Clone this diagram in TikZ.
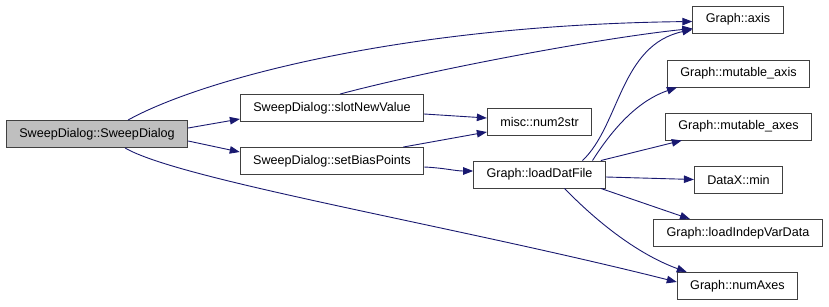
\documentclass[tikz,border=0pt]{standalone}
\usepackage{fontspec}
\setmainfont{Liberation Sans}
\usepackage{tikz}
\usetikzlibrary{arrows.meta}
\tikzset{fn/.style = {draw=black!75, line width=0.9pt, rectangle, inner xsep=13pt, inner ysep=0,
                      minimum height=27pt, font=\fontsize{12.6pt}{14pt}\selectfont}}
\tikzset{root/.style = {fn, fill=mgray}}
\tikzset{call/.style = {draw=mblue, line width=0.9pt, -{Triangle[length=10pt, width=7.5pt]}}}
\definecolor{mblue}{rgb}{0.1, 0.1, 0.44}
\definecolor{mgray}{rgb}{0.75, 0.75, 0.75}

\begin{document}
\begin{tikzpicture}[x=1pt, y=-1pt]
    \useasboundingbox (0, 0) rectangle (829, 307);

    \node [root] (sd) at (97, 134) {SweepDialog::SweepDialog};

    \node [fn] (slot) at (332, 108) {SweepDialog::slotNewValue};
    \node [fn] (bias) at (332, 161) {SweepDialog::setBiasPoints};

    \node [fn] (num2str) at (539.5, 122) {misc::num2str};
    \node [fn] (load) at (539.5, 174.5) {Graph::loadDatFile};

    \node [fn] (axis) at (738, 19.5) {Graph::axis};
    \node [fn] (maxis) at (738.5, 73.5) {Graph::mutable\_axis};
    \node [fn] (maxes) at (738.5, 126.5) {Graph::mutable\_axes};
    \node [fn] (min) at (738.5, 179.5) {DataX::min};
    \node [fn] (indep) at (738, 233) {Graph::loadIndepVarData};
    \node [fn] (numaxes) at (737.5, 286) {Graph::numAxes};

    \draw [call] ([xshift=31pt]sd.north) .. controls (200, 80) and (400, 25) .. ([yshift=-2pt]axis.west);
    \draw [call] ([yshift=6pt]sd.east) -- ([yshift=-11pt]slot.west);
    \draw [call] ([yshift=-7pt]sd.east) -- ([yshift=9pt]bias.west);
    \draw [call] ([xshift=28pt]sd.south) .. controls (180, 180) and (450, 225) .. ([yshift=4pt]numaxes.west);

    \draw [call] ([xshift=8pt]slot.north) .. controls (430, 70) and (600, 38) .. ([yshift=-9pt]axis.west);
    \draw [call] ([yshift=-6pt]slot.east) -- ([yshift=4pt]num2str.west);

    \draw [call] ([xshift=-21pt]bias.north east) -- ([yshift=-10pt]num2str.west);
    \draw [call] ([yshift=-6pt]bias.east) .. controls (445, 168) and (455, 171) .. ([yshift=3.5pt]load.west);

    \draw [call] ([xshift=43pt]load.north) .. controls (620, 125) and (620, 45) .. ([yshift=-10pt]axis.west);
    \draw [call] ([xshift=53pt]load.north) .. controls (615, 125) and (640, 100) .. ([xshift=10pt]maxis.south west);
    \draw [call] ([xshift=-5pt]load.north east) -- ([xshift=17pt]maxes.south west);
    \draw [call] ([yshift=-2.5pt]load.east) -- (min.west);
    \draw [call] ([xshift=-5pt]load.south east) -- ([xshift=-48pt]indep.north);
    \draw [call] ([xshift=25pt]load.south) .. controls (600, 225) and (640, 255) .. ([xshift=10pt]numaxes.north west);
\end{tikzpicture}
\end{document}
